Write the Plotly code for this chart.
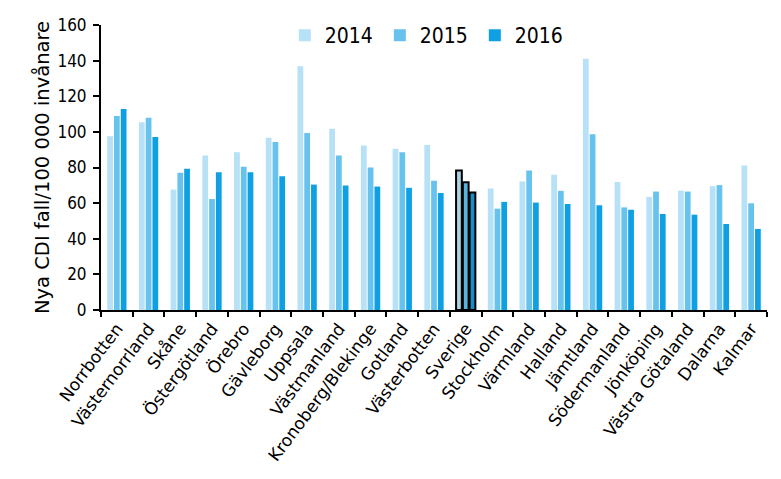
import plotly.graph_objects as go

regions = ["Norrbotten", "Västernorrland", "Skåne", "Östergötland", "Örebro", "Gävleborg",
           "Uppsala", "Västmanland", "Kronoberg/Blekinge", "Gotland", "Västerbotten", "Sverige",
           "Stockholm", "Värmland", "Halland", "Jämtland", "Södermanland", "Jönköping",
           "Västra Götaland", "Dalarna", "Kalmar"]

v2014 = [97.5, 105.4, 67.6, 86.8, 88.5, 96.7, 136.9, 101.8, 92.4, 90.5, 92.6, 78.3,
         68.2, 72.1, 75.9, 141.0, 71.9, 63.5, 67.0, 69.5, 81.1]
v2015 = [108.9, 108.0, 77.0, 62.3, 80.4, 94.3, 99.3, 86.8, 80.0, 88.5, 72.5, 71.7,
         56.9, 78.3, 66.9, 98.6, 57.6, 66.5, 66.5, 70.1, 59.9]
v2016 = [112.8, 97.1, 79.3, 77.4, 77.4, 75.1, 70.4, 69.9, 69.3, 68.6, 65.7, 65.9,
         60.7, 60.3, 59.5, 58.8, 56.3, 53.9, 53.5, 48.3, 45.5]

years = ["2014", "2015", "2016"]
colors = ["#b6e1f6", "#68c2ee", "#0ea0e2"]
sverige_colors = ["#a9d3e6", "#5ab3dc", "#1b8dc4"]
highlight = "Sverige"

fig = go.Figure()
for name, vals, col, scol in zip(years, [v2014, v2015, v2016], colors, sverige_colors):
    cols = [scol if r == highlight else col for r in regions]
    lw = [2 if r == highlight else 0 for r in regions]
    fig.add_trace(go.Bar(
        x=regions, y=vals, name=name,
        marker=dict(color=cols, line=dict(color="black", width=lw)),
    ))

cond = "DejaVu Sans Condensed, DejaVu Sans, sans-serif"
wide = "DejaVu Sans, Verdana, sans-serif"
fig.update_layout(
    width=773, height=471,
    barmode="group", bargap=0.36, bargroupgap=0.15,
    plot_bgcolor="white", paper_bgcolor="white",
    margin=dict(l=93, r=14, t=17, b=169, autoexpand=False),
    font=dict(family=cond, size=17, color="black"),
    showlegend=True,
    legend=dict(orientation="h", x=0.276, y=1.035, xanchor="left", yanchor="top",
                font=dict(family=cond, size=21), bgcolor="rgba(0,0,0,0)",
                entrywidth=50, entrywidthmode="pixels", itemwidth=30),
)
fig.update_yaxes(range=[0, 160], dtick=20, showline=True, linecolor="black", linewidth=2,
                 ticks="outside", ticklen=6, tickwidth=2, tickcolor="black",
                 showgrid=False, zeroline=False, automargin=False, ticklabelstandoff=3,
                 title=dict(text="Nya CDI fall/100 000 invånare",
                            font=dict(family=wide, size=19.5), standoff=3),
                 tickfont=dict(family=cond, size=17))
fig.update_xaxes(showline=True, linecolor="black", linewidth=2, ticks="outside",
                 tickson="boundaries", ticklen=5, tickwidth=2, tickcolor="black",
                 automargin=False,
                 tickangle=-53, tickfont=dict(family=wide, size=17), showgrid=False)

fig.write_html("out.html")
